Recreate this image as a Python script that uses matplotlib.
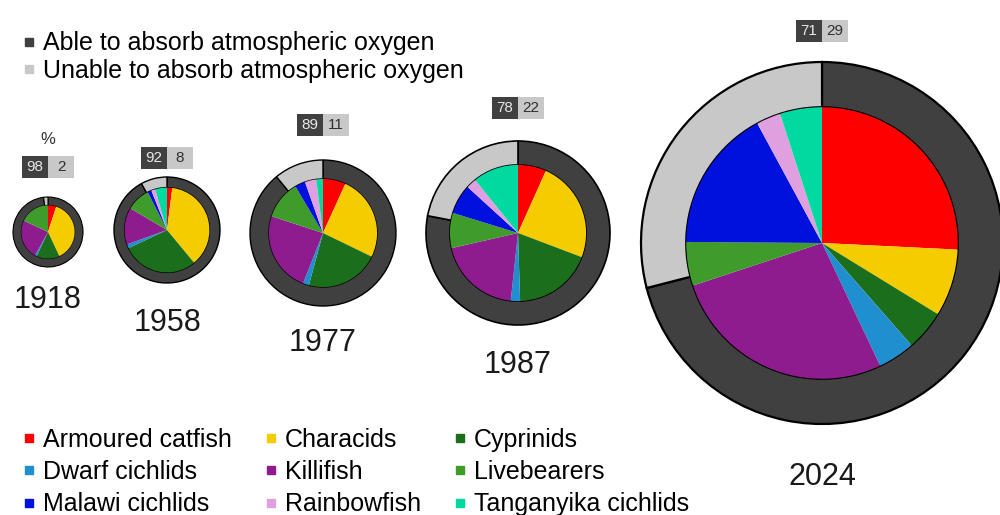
import matplotlib.pyplot as plt
from matplotlib.patches import Rectangle
from matplotlib.lines import Line2D

plt.rcParams['font.family'] = ['Liberation Sans', 'DejaVu Sans']

years = ['1918', '1958', '1977', '1987', '2024']
able = [98, 92, 89, 78, 71]
unable = [2, 8, 11, 22, 29]

groups = ['Armoured catfish', 'Characids', 'Cyprinids', 'Dwarf cichlids', 'Killifish',
          'Livebearers', 'Malawi cichlids', 'Rainbowfish', 'Tanganyika cichlids']
share_1918 = [5, 38, 14, 1, 24, 18, 0, 0, 0]
share_1958 = [2, 37, 29, 1.5, 14, 9, 1.5, 1.5, 4.5]
share_1977 = [6.8, 25.4, 22, 1.8, 24, 11.5, 3.1, 3.4, 2]
share_1987 = [6.7, 24, 18.7, 2.2, 19.7, 8.3, 7, 2.4, 10.8]
share_2024 = [25.8, 8, 4.8, 4.4, 27, 5.2, 17, 2.9, 5]
shares = [share_1918, share_1958, share_1977, share_1987, share_2024]

group_colors = ['#ff0000', '#f5cc00', '#1b6e1b', '#1f8fd0', '#8e1c8e',
                '#3f9b2a', '#0010dd', '#e0a0e0', '#00d9a0']
able_color = '#404040'
unable_color = '#c8c8c8'

# layout, in pixels from the top-left corner
H = 515
cx = [48, 167, 323, 518, 822]
cy = [232, 230, 233, 233, 243]
radius = [35, 53, 73, 92, 181]
hole = [0.76, 0.8, 0.74, 0.74, 0.75]
edge_w = [0.8, 1.0, 1.0, 1.2, 1.6]
box_y = [167, 158, 125, 108, 31]
label_y = [300, 323, 343, 365, 477]

fig = plt.figure(figsize=(10, 5.15), dpi=100)
ax = fig.add_axes([0, 0, 1, 1])

for i in range(len(years)):
    r = radius[i]
    c = (cx[i], H - cy[i])
    # outer ring: share able / unable to breathe air
    ax.pie([able[i], unable[i]], radius=r, center=c, startangle=90, counterclock=False,
           colors=[able_color, unable_color],
           wedgeprops=dict(width=r * (1 - hole[i]), edgecolor='black', linewidth=edge_w[i]))
    # inner pie: fish groups (skip empty groups)
    vals = [v for v in shares[i] if v > 0]
    cols = [group_colors[k] for k, v in enumerate(shares[i]) if v > 0]
    ax.pie(vals, radius=r * hole[i], center=c, startangle=90, counterclock=False,
           colors=cols, wedgeprops=dict(linewidth=0))

    # percentage boxes
    by = H - box_y[i]
    ax.add_patch(Rectangle((cx[i] - 26, by - 11), 26, 22, fc=able_color, ec='none'))
    ax.add_patch(Rectangle((cx[i], by - 11), 26, 22, fc=unable_color, ec='none'))
    ax.text(cx[i] - 13, by, str(able[i]), ha='center', va='center', fontsize=11, color='#e8e8e8')
    ax.text(cx[i] + 13, by, str(unable[i]), ha='center', va='center', fontsize=11, color='#303030')

    ax.text(cx[i], H - label_y[i], years[i], ha='center', va='center', fontsize=22, color='#1a1a1a')

ax.text(cx[0], H - 140, '%', ha='center', va='center', fontsize=12, color='#333333')

ax.set_xlim(0, 1000)
ax.set_ylim(0, H)
ax.set_aspect('equal')
ax.axis('off')

leg_kw = dict(frameon=False, fontsize=18, handlelength=0.4, handletextpad=0.36,
              borderpad=0, borderaxespad=0)

top_handles = [Line2D([], [], marker='s', ls='', color=able_color, markersize=6,
                      label='Able to absorb atmospheric oxygen'),
               Line2D([], [], marker='s', ls='', color=unable_color, markersize=6,
                      label='Unable to absorb atmospheric oxygen')]
fig.legend(handles=top_handles, loc='upper left', bbox_to_anchor=(0.024, 0.939),
           labelspacing=0.15, **leg_kw)

# legend fills column by column, reorder so rows read as in the figure
order = [0, 3, 6, 1, 4, 7, 2, 5, 8]
grp_handles = [Line2D([], [], marker='s', ls='', color=group_colors[k], markersize=6,
                      label=groups[k]) for k in order]
fig.legend(handles=grp_handles, loc='upper left', bbox_to_anchor=(0.024, 0.169),
           ncol=3, labelspacing=0.33, columnspacing=1.36, **leg_kw)

fig.savefig('out.png', dpi=100)
